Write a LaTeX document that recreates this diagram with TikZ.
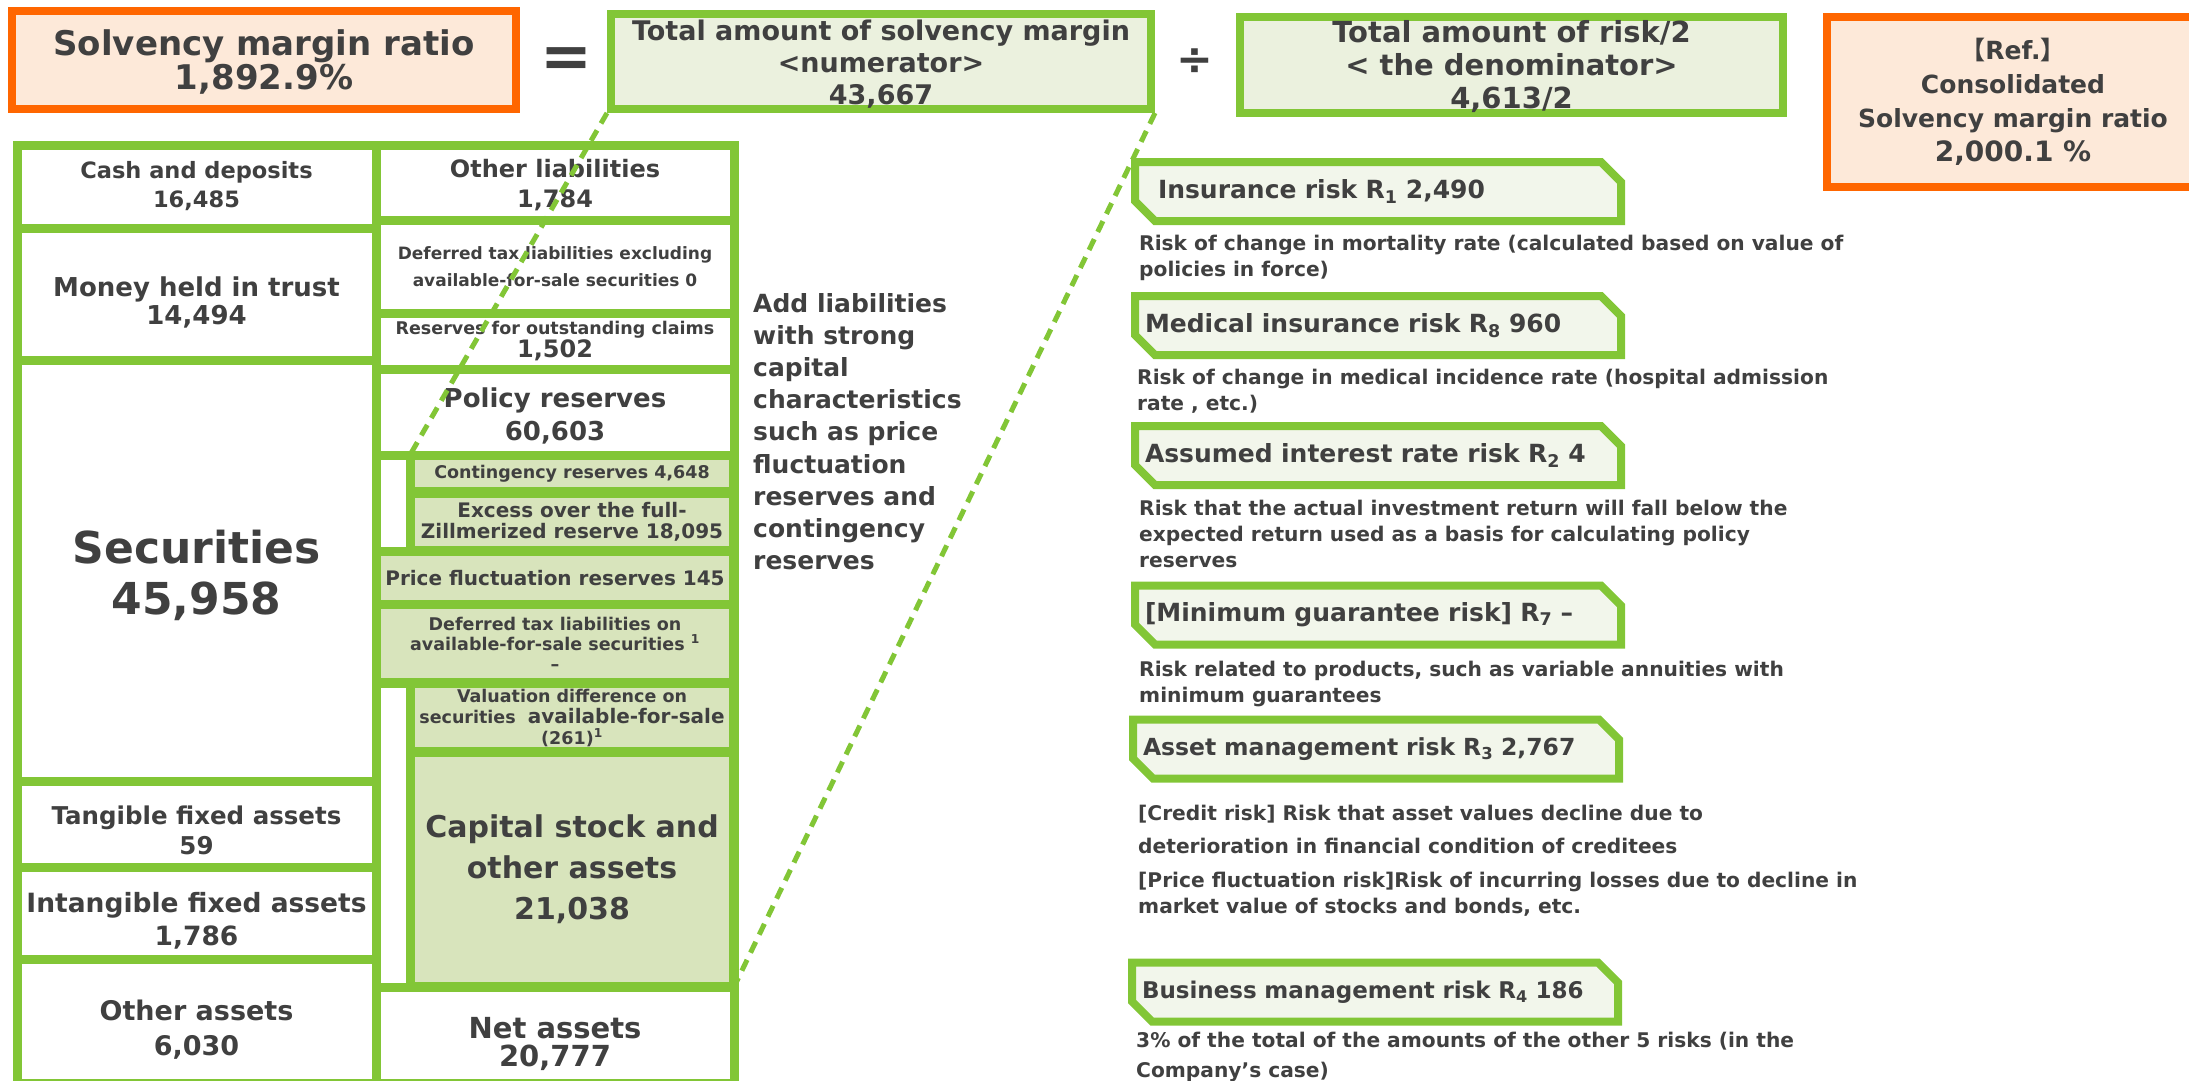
\documentclass[tikz,border=0pt]{standalone}
\usepackage{fontspec}
\setmainfont{DejaVu Sans}
\newfontfamily\cjk{Noto Sans CJK JP}
\usepackage{tikz}
\usetikzlibrary{shapes.misc}
\definecolor{Leaf}{HTML}{82C636}
\definecolor{Sage}{HTML}{D8E4BC}
\definecolor{Mint}{HTML}{EBF1DE}
\definecolor{Pale}{HTML}{F2F6EB}
\definecolor{Flame}{HTML}{FF6600}
\definecolor{Peach}{HTML}{FDE9D9}
\definecolor{Ink}{HTML}{404040}
\newcommand\fsz[2]{\fontsize{#1}{#2}\selectfont}
\newcommand\drop[1]{\rule{0pt}{#1pt}}

\begin{document}
\bfseries
\begin{tikzpicture}[x=1pt,y=-1pt,
  ratio/.style={draw=Flame,fill=Peach,line width=8pt,align=center,text=Ink,inner sep=0pt},
  sumbox/.style={draw=Leaf,fill=Mint,line width=8pt,align=center,text=Ink,inner sep=0pt},
  cell/.style={draw=Leaf,fill=white,line width=9pt,align=center,text=Ink,inner sep=0pt},
  capcell/.style={fill=Sage,align=center,text=Ink,inner sep=0pt},
  capframe/.style={draw=Leaf,fill=Leaf,line width=9pt},
  riskbox/.style={chamfered rectangle,chamfered rectangle corners={north east,south west},chamfered rectangle xsep=10pt,chamfered rectangle ysep=10pt,draw=Leaf,fill=Pale,line width=8pt,text=Ink,align=left,inner xsep=0pt,inner ysep=0pt,text width=466pt,minimum height=59pt,font=\fsz{25}{30}},
  note/.style={anchor=west,align=left,text=Ink,inner sep=0pt,font=\fsz{20.2}{26}},
  link/.style={draw=Leaf,line width=5pt,dash pattern=on 12pt off 8pt}
]
\useasboundingbox (0,0) rectangle (2189,1081);

\node[ratio,minimum width=504pt,minimum height=98pt,font=\fsz{34}{34}] (ratio) at (264,60) {\drop{30}Solvency margin ratio\\1,892.9\%};
\node[text=Ink,font=\fsz{62}{62}] (eq) at (566,63) {=};
\node[sumbox,minimum width=540pt,minimum height=95pt,font=\fsz{27}{32}] (numer) at (881,61.5) {\drop{26}Total amount of solvency margin\\<numerator>\\43,667};
\node[text=Ink,font=\fsz{44}{44}] (div) at (1195,62) {÷};
\node[sumbox,minimum width=543pt,minimum height=96pt,font=\fsz{29}{33}] (denom) at (1511.5,65) {\drop{26}Total amount of risk/2\\< the denominator>\\4,613/2};
\node[ratio,minimum width=372pt,minimum height=170pt,font=\fsz{25}{34}] (refratio) at (2013,102) {{\cjk 【}Ref.{\cjk 】}\\Consolidated\\Solvency margin ratio\\{\fsz{28}{34}2,000.1 \%}};

\node[cell,minimum width=359pt,minimum height=83pt,font=\fsz{22.5}{29}] (cash) at (196.5,186.5) {Cash and deposits\\16,485};
\node[cell,minimum width=359pt,minimum height=132pt,font=\fsz{26}{28}] (trust) at (196.5,294) {\drop{36}Money held in trust\\14,494};
\node[cell,minimum width=359pt,minimum height=421pt,font=\fsz{44}{51}] (secu) at (196.5,570.5) {\drop{44}Securities\\45,958};
\node[cell,minimum width=359pt,minimum height=86pt,font=\fsz{24.5}{30}] (tangible) at (196.5,824) {\drop{32}Tangible fixed assets\\59};
\node[cell,minimum width=359pt,minimum height=92pt,font=\fsz{26.5}{33}] (intangible) at (196.5,913) {\drop{36}Intangible fixed assets\\1,786};
\node[cell,minimum width=359pt,minimum height=124pt,font=\fsz{27}{35}] (otherassets) at (196.5,1021) {\drop{38}Other assets\\6,030};

\node[cell,minimum width=358pt,minimum height=75pt,font=\fsz{24}{30}] (otherliab) at (555,182.5) {\drop{23}Other liabilities\\1,784};
\node[cell,minimum width=358pt,minimum height=93pt,font=\fsz{17}{27}] (deftax) at (555,266.5) {Deferred tax liabilities excluding\\available-for-sale securities 0};
\node[cell,minimum width=358pt,minimum height=56pt,font=\fsz{17.5}{19}] (outstanding) at (555,341) {Reserves for outstanding claims\\{\fsz{24}{19}1,502}};
\node[cell,minimum width=358pt,minimum height=86pt,font=\fsz{26}{33}] (policy) at (555,412) {\drop{27}Policy reserves\\60,603};
\node[cell,minimum width=358pt,minimum height=96pt,font=\fsz{29}{28}] (netassets) at (555,1035) {\drop{40}Net assets\\20,777};

\coordinate (capNW) at (410,455);
\coordinate (capSE) at (734,987);
\draw[capframe] (capNW) -- (734,455) -- (capSE) -- (410,987) -- (410,683) -- (376,683) -- (376,551) -- (410,551) -- cycle;
\node[capcell,minimum width=314pt,minimum height=27pt,font=\fsz{17.5}{20}] (contingency) at (572,473.5) {Contingency reserves 4,648};
\node[capcell,minimum width=314pt,minimum height=48pt,font=\fsz{20}{21}] (excess) at (572,522) {Excess over the full-\\Zillmerized reserve 18,095};
\node[capcell,minimum width=348pt,minimum height=44pt,font=\fsz{20}{24}] (pricefluct) at (555,578) {Price fluctuation reserves 145};
\node[capcell,minimum width=348pt,minimum height=69pt,font=\fsz{17.5}{20}] (defafs) at (555,643.5) {Deferred tax liabilities on\\available-for-sale securities \textsuperscript{1}\\--};
\node[capcell,minimum width=314pt,minimum height=59pt,font=\fsz{17.5}{21}] (valuation) at (572,717.5) {Valuation difference on\\securities\ \ {\fsz{20}{21}available-for-sale}\\(261)\textsuperscript{1}};
\node[capcell,minimum width=314pt,minimum height=225pt,font=\fsz{30}{41}] (capital) at (572,869.5) {Capital stock and\\other assets\\21,038};

\draw[link] (numer.south west) -- (capNW);
\draw[link] (numer.south east) -- (capSE);

\node[note,font=\fsz{25}{32.2}] (addnote) at (753,431.5) {Add liabilities\\with strong\\capital\\characteristics\\such as price\\fluctuation\\reserves and\\contingency\\reserves};

\node[riskbox] (insrisk) at (1378,191.5) {\hspace*{13pt}Insurance risk R\textsubscript{1} 2,490};
\node[note] (insdesc) at (1139,257.5) {Risk of change in mortality rate (calculated based on value of\\policies in force)};
\node[riskbox] (medrisk) at (1378,325.5) {Medical insurance risk R\textsubscript{8} 960};
\node[note] (meddesc) at (1137,391.5) {Risk of change in medical incidence rate (hospital admission\\rate , etc.)};
\node[riskbox] (raterisk) at (1378,455.5) {Assumed interest rate risk R\textsubscript{2} 4};
\node[note] (ratedesc) at (1139,533.5) {Risk that the actual investment return will fall below the\\expected return used as a basis for calculating policy\\reserves};
\node[riskbox] (minrisk) at (1378,615) {[Minimum guarantee risk] R\textsubscript{7} --};
\node[note] (mindesc) at (1139,684) {Risk related to products, such as variable annuities with\\minimum guarantees};
\node[riskbox,font=\fsz{23.5}{30}] (assetrisk) at (1376,749) {Asset management risk R\textsubscript{3} 2,767};
\node[note,font=\fsz{20.2}{33}] (creditdesc) at (1138,829.5) {[Credit risk] Risk that asset values decline due to\\deterioration in financial condition of creditees};
\node[note] (pricedesc) at (1138,894.5) {[Price fluctuation risk]Risk of incurring losses due to decline in\\market value of stocks and bonds, etc.};
\node[riskbox,font=\fsz{23}{30}] (bizrisk) at (1375,992) {Business management risk R\textsubscript{4} 186};
\node[note,font=\fsz{20.2}{30}] (bizdesc) at (1136,1057) {3\% of the total of the amounts of the other 5 risks (in the\\Company’s case)};
\end{tikzpicture}
\end{document}
